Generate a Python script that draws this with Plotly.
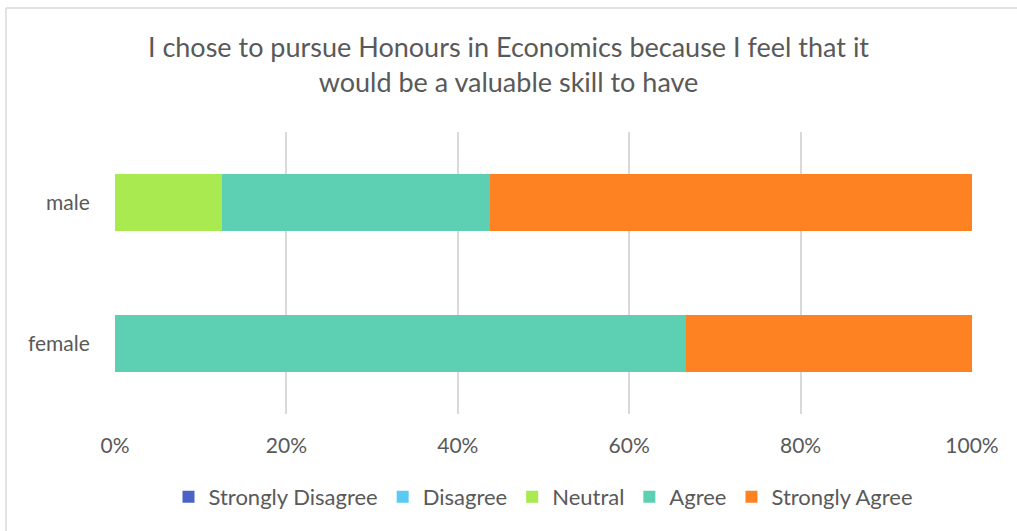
import plotly.graph_objects as go

# Response shares (%) per gender group
groups = ["female", "male"]
strongly_disagree = [0, 0]
disagree = [0, 0]
neutral = [0, 12.5]
agree = [66.67, 31.25]
strongly_agree = [33.33, 56.25]

x_ticks = [0, 20, 40, 60, 80, 100]
x_tick_labels = ["0%", "20%", "40%", "60%", "80%", "100%"]

series = [
    ("Strongly Disagree", strongly_disagree, "#4A63C7"),
    ("Disagree", disagree, "#5BCAF3"),
    ("Neutral", neutral, "#A9EA50"),
    ("Agree", agree, "#5DCFB3"),
    ("Strongly Agree", strongly_agree, "#FF8222"),
]

W, H = 1017, 531
L, R, T, B = 115, 45, 132, 117

fig = go.Figure()
for name, vals, color in series:
    fig.add_trace(go.Bar(
        y=groups, x=vals, name=name, orientation="h",
        marker=dict(color=color, line=dict(width=0)),
        width=0.405,
    ))

pw = W - L - R
ph = H - T - B
# light frame along the top and left edges of the chart
x_left = (6 - L) / pw
y_top = (H - B - 8) / ph
x_right = (W - L) / pw
y_bottom = (H - B - H) / ph
fig.add_shape(type="line", xref="paper", yref="paper",
              x0=x_left, x1=x_right, y0=y_top, y1=y_top,
              line=dict(color="#d9d9d9", width=1.5))
fig.add_shape(type="line", xref="paper", yref="paper",
              x0=x_left, x1=x_left, y0=y_top, y1=y_bottom,
              line=dict(color="#d9d9d9", width=1.5))

font_fam = "Lato, 'Open Sans', sans-serif"
fig.update_layout(
    width=W, height=H,
    margin=dict(l=L, r=R, t=T, b=B),
    barmode="stack",
    plot_bgcolor="white", paper_bgcolor="white",
    title=dict(
        text="I chose to pursue Honours in Economics because I feel that it<br>would be a valuable skill to have",
        x=0.5, xanchor="center", xref="container",
        y=1 - 57 / H, yanchor="middle", yref="container",
        font=dict(family=font_fam, size=27, color="#595959"),
    ),
    xaxis=dict(
        range=[0, 100], tickvals=x_ticks, ticktext=x_tick_labels,
        showgrid=True, gridcolor="#d9d9d9", gridwidth=1.5,
        zeroline=False, showline=False,
        tickfont=dict(family=font_fam, size=21, color="#595959"),
        ticks="outside", ticklen=13, tickcolor="white",
    ),
    yaxis=dict(
        showgrid=False, zeroline=False, showline=False,
        tickfont=dict(family=font_fam, size=21, color="#595959"),
        ticks="outside", ticklen=20, tickcolor="white",
    ),
    legend=dict(
        orientation="h", x=0.5, xanchor="center", y=-0.22, yanchor="top",
        font=dict(family=font_fam, size=22, color="#595959"),
        traceorder="normal", itemwidth=30,
    ),
    bargap=0.6,
)

fig.write_html("out.html")
